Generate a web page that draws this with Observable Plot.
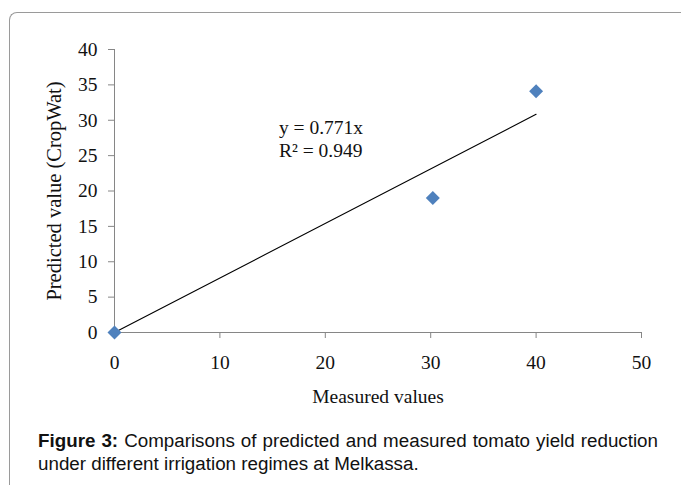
<!DOCTYPE html>
<html>
<head>
<meta charset="utf-8">
<script src="https://cdn.jsdelivr.net/npm/d3@7"></script>
<script src="https://cdn.jsdelivr.net/npm/@observablehq/plot@0.6"></script>
<style>
  html, body { margin: 0; padding: 0; background: #fff; }
  #wrap { position: relative; width: 681px; height: 485px; overflow: hidden; }
  #frame { position: absolute; left: 9px; top: 12px; width: 700px; height: 500px;
           border-left: 1px solid #9a9a9a; border-top: 1px solid #9a9a9a; border-top-left-radius: 8px; }
  #chart { position: absolute; left: 0; top: 0; }
  #caption { position: absolute; left: 38px; top: 429px; width: 620px;
             font-family: "Liberation Sans", Arial, sans-serif; font-size: 18.8px; line-height: 23px; color: #111; }
  #caption .l1 { text-align: justify; text-align-last: justify; white-space: nowrap; }
</style>
</head>
<body>
<div id="wrap">
  <div id="frame"></div>
  <div id="chart"></div>
  <div id="caption"><div class="l1"><b>Figure 3:</b> Comparisons of predicted and measured tomato yield reduction</div><div>under different irrigation regimes at Melkassa.</div></div>
</div>
<script>
const measured = [0, 30.2, 40];
const predicted = [0, 19, 34.1];
const slope = 0.771;
const trendX = [0, 40];
const xTicks = [0, 10, 20, 30, 40, 50];
const yTicks = [0, 5, 10, 15, 20, 25, 30, 35, 40];
const equationLines = ["y = 0.771x", "R² = 0.949"];
const equationPos = { x: 15.6, y: 27.5 };

const points = measured.map((m, i) => ({ x: m, y: predicted[i] }));
const trend = trendX.map(x => ({ x, y: slope * x }));
const axisColor = "#868686";
const serif = "'Liberation Serif', 'Times New Roman', serif";

const chart = Plot.plot({
  width: 681,
  height: 420,
  marginLeft: 114,
  marginRight: 40,
  marginTop: 49,
  marginBottom: 88,
  x: { domain: [0, 50] },
  y: { domain: [0, 40] },
  style: { fontFamily: serif, fontSize: "19.5px", color: "#111", background: "transparent" },
  marks: [
    Plot.ruleX([0], { stroke: axisColor, strokeWidth: 1 }),
    Plot.ruleY([0], { stroke: axisColor, strokeWidth: 1 }),
    Plot.axisY({ ticks: yTicks, tickSize: 6, tickPadding: 11, stroke: axisColor, label: null, fontSize: 19.5, fill: "#111", tickFormat: d => String(d) }),
    Plot.axisX({ ticks: xTicks, tickSize: 6, tickPadding: 17, stroke: axisColor, label: null, fontSize: 19.5, fill: "#111", tickFormat: d => String(d) }),
    Plot.line(trend, { x: "x", y: "y", stroke: "#000", strokeWidth: 1.1 }),
    Plot.dot(points, { x: "x", y: "y", symbol: "diamond2", r: 6.3, fill: "#4F81BD", stroke: "none" }),
    Plot.text([equationLines.join("\n")], { x: equationPos.x, y: equationPos.y, text: d => d, textAnchor: "start", lineHeight: 1.2, fontSize: 19.5, fill: "#111" }),
    Plot.text(["Measured values"], { frameAnchor: "bottom", dy: 70, text: d => d, fontSize: 19.5, fill: "#111" }),
    Plot.text(["Predicted value (CropWat)"], { frameAnchor: "left", textAnchor: "middle", dx: -60, rotate: -90, text: d => d, fontSize: 20.5, fill: "#111" })
  ]
});
document.getElementById("chart").appendChild(chart);
</script>
</body>
</html>
